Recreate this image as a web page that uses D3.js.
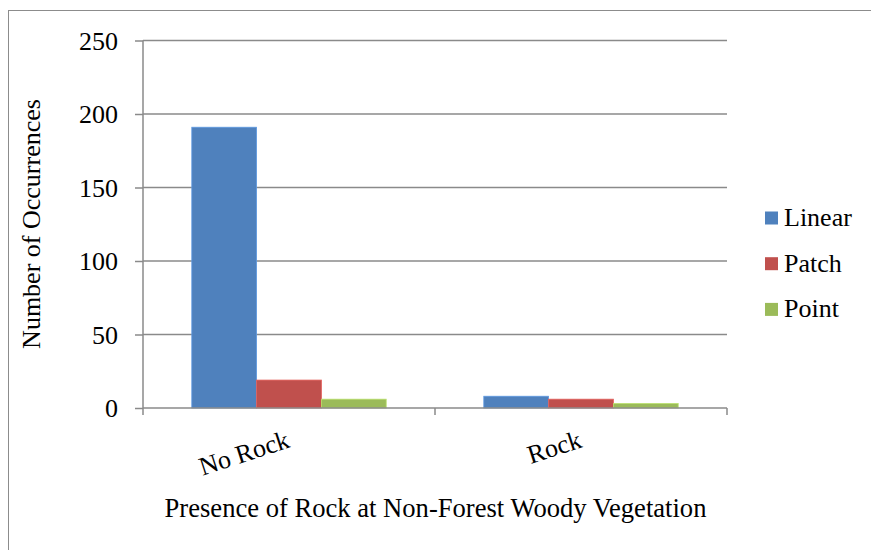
<!DOCTYPE html>
<html><head><meta charset="utf-8">
<script src="https://cdn.jsdelivr.net/npm/d3@7"></script>
<style>body{margin:0;background:#fff}svg{display:block}</style>
</head><body><svg id="c" width="871" height="550" font-family="Liberation Serif"></svg>
<script>
const categories = ["No Rock", "Rock"];
const seriesNames = ["Linear", "Patch", "Point"];
const linearValues = [191, 8];
const patchValues = [19, 6];
const pointValues = [6, 3];
const yTicks = [0, 50, 100, 150, 200, 250];
const colors = ["#4F81BD", "#C0504D", "#9BBB59"];
const seriesValues = [linearValues, patchValues, pointValues];

const svg = d3.select("#c");
const pLeft = 143, pRight = 727, pTop = 40.5, pBottom = 408;
const fs = 26;
const serif = "Liberation Serif";

svg.append("rect").attr("x", 8.5).attr("y", 10.5).attr("width", 880).attr("height", 560)
  .attr("fill", "#fff").attr("stroke", "#8c8c8c").attr("stroke-width", 1);

const x0 = d3.scaleBand().domain(categories).range([pLeft, pRight]).paddingInner(0).paddingOuter(0);
const x1 = d3.scaleBand().domain(seriesNames).range([0, x0.bandwidth()]).paddingInner(0).paddingOuter(0.753);
const y = d3.scaleLinear().domain([0, 250]).range([pBottom, pTop]);

// gridlines
svg.append("g").selectAll("line").data(yTicks.filter(t => t > 0)).join("line")
  .attr("x1", pLeft).attr("x2", pRight).attr("y1", d => y(d)).attr("y2", d => y(d))
  .attr("stroke", "#8a8a8a").attr("stroke-width", 1.5);

// y axis
const yAxis = d3.axisLeft(y).tickValues(yTicks).tickSize(8).tickPadding(17).tickFormat(d3.format("d"));
const gy = svg.append("g").attr("transform", `translate(${pLeft},0)`).call(yAxis)
  .attr("font-family", serif).attr("font-size", fs);
gy.select(".domain").attr("stroke", "#8a8a8a").attr("stroke-width", 1.5).attr("d", `M0,${pTop}V${pBottom}`);
gy.selectAll(".tick line").attr("stroke", "#8a8a8a").attr("stroke-width", 1.5);
gy.selectAll(".tick text").attr("fill", "#000").attr("dy", "0.34em");

// bars
const groups = svg.append("g").selectAll("g").data(seriesNames).join("g");
groups.selectAll("rect").data((s, i) => categories.map((c, j) => ({c, s, v: seriesValues[i][j], i}))).join("rect")
  .attr("x", d => x0(d.c) + x1(d.s)).attr("width", x1.bandwidth())
  .attr("y", d => y(d.v)).attr("height", d => pBottom - y(d.v))
  .attr("fill", d => colors[d.i])
  .attr("stroke", d => d3.color(colors[d.i]).brighter(0.5)).attr("stroke-width", 0.8);

// x axis
const boundaries = [pLeft, ...categories.map(c => x0(c) + x0.bandwidth())];
svg.append("line").attr("x1", pLeft).attr("x2", pRight).attr("y1", pBottom).attr("y2", pBottom)
  .attr("stroke", "#8a8a8a").attr("stroke-width", 1.5);
svg.append("g").selectAll("line").data(boundaries).join("line")
  .attr("x1", d => d).attr("x2", d => d).attr("y1", pBottom).attr("y2", pBottom + 7)
  .attr("stroke", "#8a8a8a").attr("stroke-width", 1.5);
svg.append("g").selectAll("text").data(categories).join("text")
  .attr("transform", d => `translate(${x0(d) + x0.bandwidth() / 2 + 2},447) rotate(-18)`)
  .attr("text-anchor", "end").attr("font-family", serif).attr("font-size", fs).text(d => d);

// axis titles
svg.append("text").attr("x", 435.5).attr("y", 517).attr("text-anchor", "middle").attr("font-family", serif).attr("font-size", 26.6)
  .text("Presence of Rock at Non-Forest Woody Vegetation");
svg.append("text").attr("transform", "translate(40,224) rotate(-90)").attr("text-anchor", "middle").attr("font-family", serif).attr("font-size", fs)
  .text("Number of Occurrences");

// legend
const lg = svg.append("g").selectAll("g").data(seriesNames).join("g")
  .attr("transform", (d, i) => `translate(765,${218 + i * 45.7})`);
lg.append("rect").attr("x", 0).attr("y", -6.5).attr("width", 13).attr("height", 13).attr("fill", (d, i) => colors[i]);
lg.append("text").attr("x", 19).attr("y", 8).attr("font-family", serif).attr("font-size", fs).text(d => d);
</script></body></html>
